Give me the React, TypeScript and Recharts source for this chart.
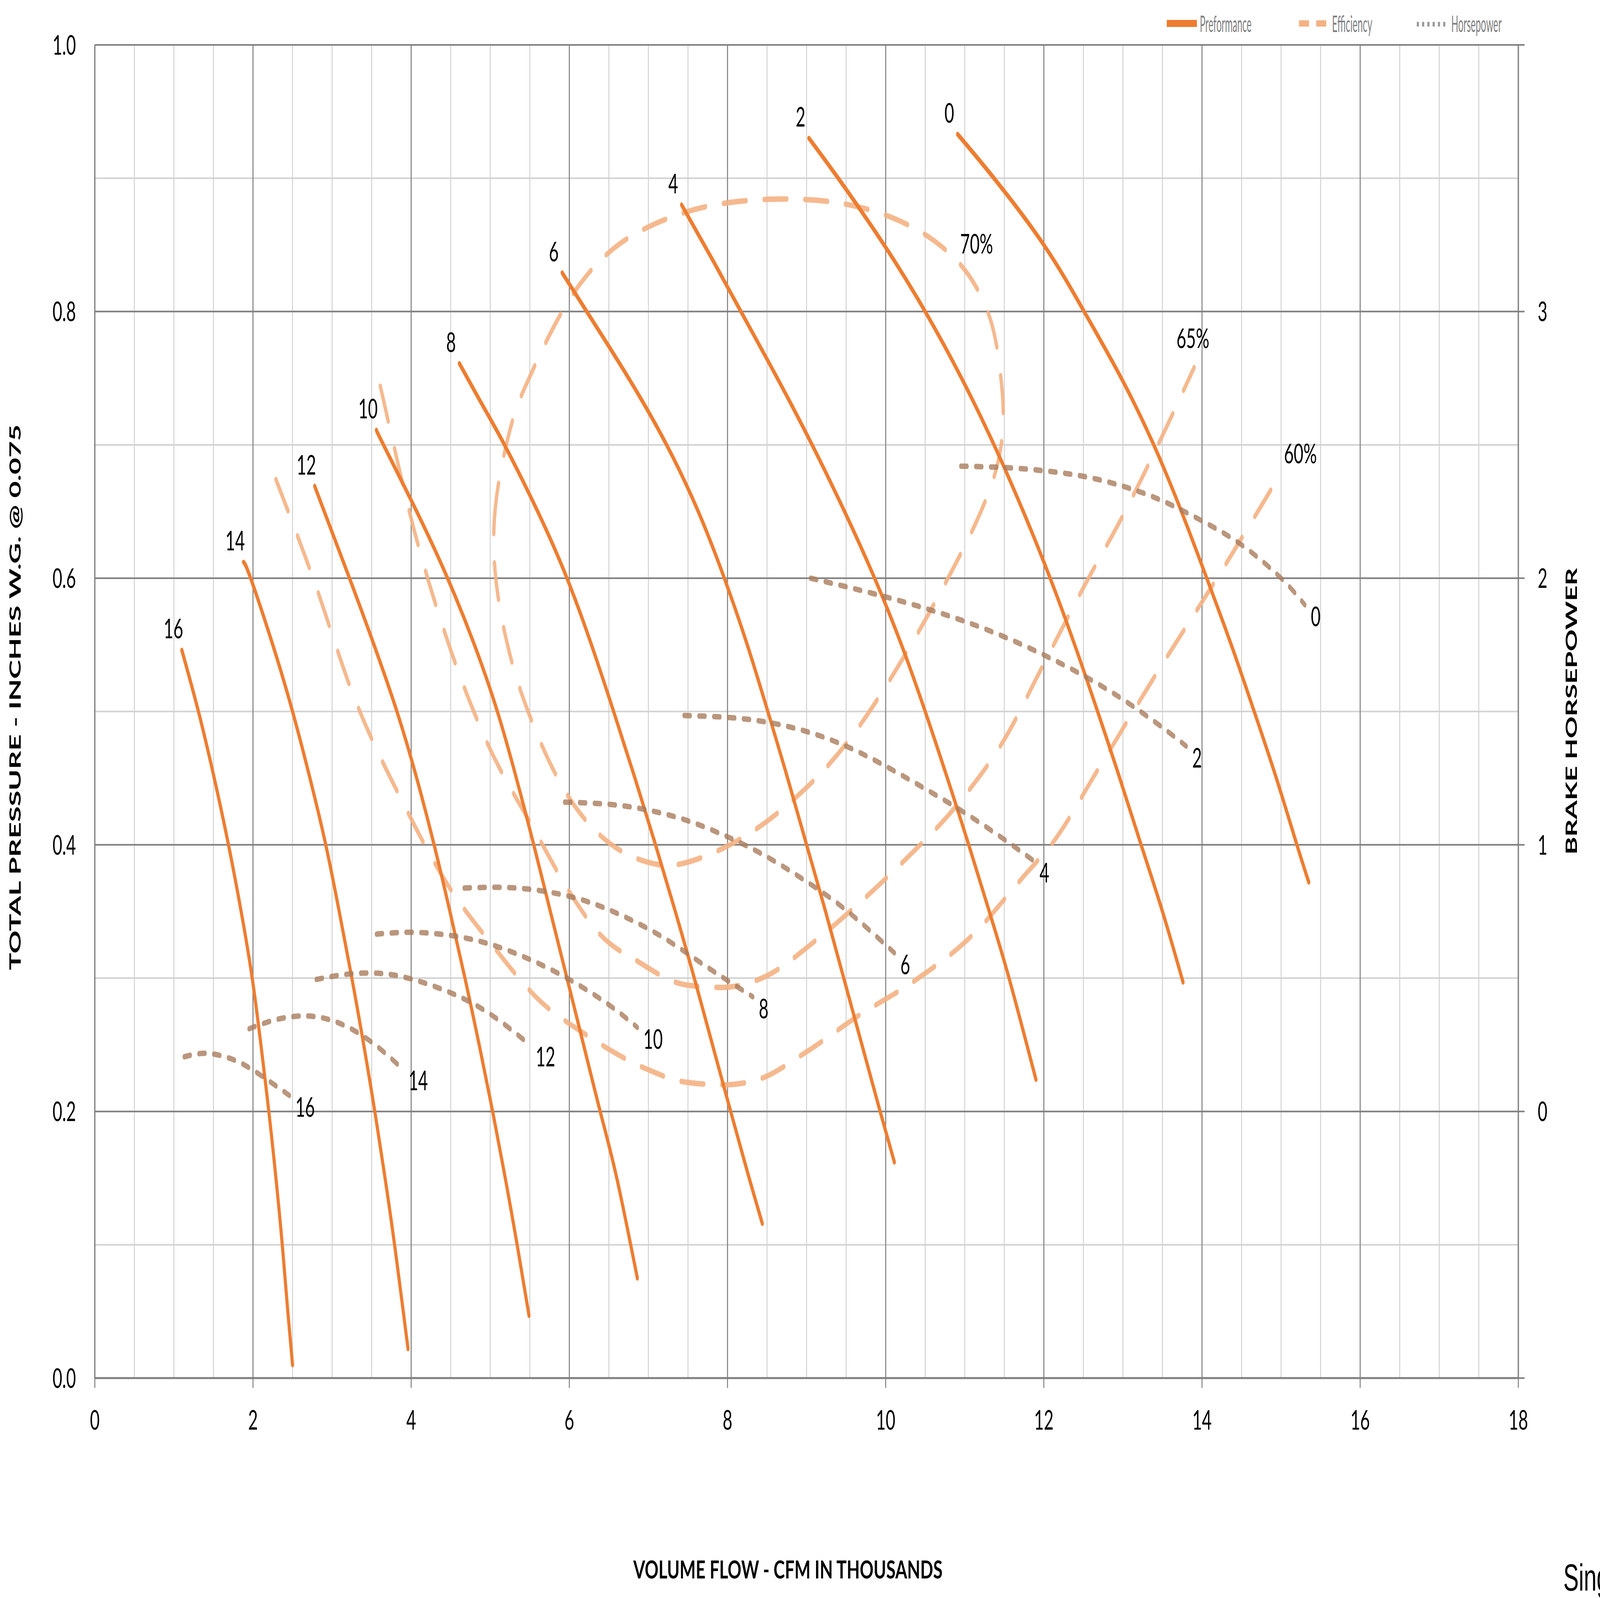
import React from 'react';
import { LineChart, Line, XAxis, YAxis, CartesianGrid } from 'recharts';

type Pt = [number, number];

// axis ticks
const xTicks = [0, 2, 4, 6, 8, 10, 12, 14, 16, 18];
const xMinorTicks = [0, 0.5, 1, 1.5, 2, 2.5, 3, 3.5, 4, 4.5, 5, 5.5, 6, 6.5, 7, 7.5, 8, 8.5, 9, 9.5, 10, 10.5, 11, 11.5, 12, 12.5, 13, 13.5, 14, 14.5, 15, 15.5, 16, 16.5, 17, 17.5, 18];
const pressureTicks = [0, 0.2, 0.4, 0.6, 0.8, 1.0];
const pressureMinorTicks = [0, 0.1, 0.2, 0.3, 0.4, 0.5, 0.6, 0.7, 0.8, 0.9, 1.0];
const bhpTicks = [-1, 0, 1, 2, 3, 4];

// performance curves (x = CFM thousands, y = in. w.g.)
const perf0: Pt[] = [[10.91, 0.933], [11.37, 0.9], [12.0, 0.85], [12.51, 0.8], [12.98, 0.75], [13.39, 0.7], [13.74, 0.65], [14.06, 0.6], [14.37, 0.55], [14.66, 0.5], [14.94, 0.45], [15.2, 0.4], [15.35, 0.372]];
const perf2: Pt[] = [[9.03, 0.93], [9.4, 0.9], [9.98, 0.85], [10.5, 0.8], [10.96, 0.75], [11.37, 0.7], [11.74, 0.65], [12.08, 0.6], [12.39, 0.55], [12.68, 0.5], [12.96, 0.45], [13.23, 0.4], [13.5, 0.35], [13.76, 0.297]];
const perf4: Pt[] = [[7.42, 0.88], [7.8, 0.84], [8.17, 0.8], [8.63, 0.75], [9.07, 0.7], [9.48, 0.65], [9.86, 0.6], [10.2, 0.55], [10.5, 0.5], [10.78, 0.45], [11.05, 0.4], [11.31, 0.35], [11.56, 0.3], [11.9, 0.224]];
const perf6: Pt[] = [[5.91, 0.829], [6.22, 0.8], [6.75, 0.75], [7.23, 0.7], [7.63, 0.65], [7.96, 0.6], [8.25, 0.55], [8.51, 0.5], [8.76, 0.45], [9.0, 0.4], [9.24, 0.35], [9.47, 0.3], [9.7, 0.25], [9.93, 0.2], [10.11, 0.162]];
const perf8: Pt[] = [[4.61, 0.761], [4.9, 0.73], [5.18, 0.7], [5.6, 0.65], [5.97, 0.6], [6.28, 0.55], [6.56, 0.5], [6.83, 0.45], [7.09, 0.4], [7.34, 0.35], [7.58, 0.3], [7.81, 0.25], [8.04, 0.2], [8.25, 0.155], [8.44, 0.116]];
const perf10: Pt[] = [[3.56, 0.711], [3.65, 0.7], [4.07, 0.65], [4.46, 0.6], [4.8, 0.55], [5.09, 0.5], [5.33, 0.45], [5.55, 0.4], [5.76, 0.35], [5.97, 0.3], [6.18, 0.25], [6.39, 0.2], [6.6, 0.15], [6.86, 0.075]];
const perf12: Pt[] = [[2.78, 0.669], [3.22, 0.6], [3.53, 0.55], [3.82, 0.5], [4.07, 0.45], [4.29, 0.4], [4.49, 0.35], [4.68, 0.3], [4.86, 0.25], [5.03, 0.2], [5.19, 0.15], [5.34, 0.1], [5.49, 0.047]];
const perf14: Pt[] = [[1.88, 0.612], [1.97, 0.6], [2.25, 0.55], [2.5, 0.5], [2.72, 0.45], [2.92, 0.4], [3.09, 0.35], [3.25, 0.3], [3.4, 0.25], [3.54, 0.2], [3.67, 0.15], [3.79, 0.1], [3.9, 0.05], [3.96, 0.022]];
const perf16: Pt[] = [[1.1, 0.546], [1.31, 0.5], [1.51, 0.45], [1.69, 0.4], [1.85, 0.35], [1.99, 0.3], [2.1, 0.25], [2.2, 0.2], [2.29, 0.15], [2.37, 0.1], [2.44, 0.05], [2.5, 0.01]];

// efficiency contours
const eff70: Pt[] = [[5.05, 0.598], [5.03, 0.645], [5.14, 0.685], [5.3, 0.725], [5.46, 0.746], [5.76, 0.785], [6.05, 0.815], [6.35, 0.837], [6.7, 0.855], [7.21, 0.87], [7.8, 0.881], [8.52, 0.885], [9.12, 0.884], [9.5, 0.881], [9.97, 0.874], [10.48, 0.86], [10.9, 0.84], [11.16, 0.819], [11.37, 0.79], [11.45, 0.756], [11.5, 0.725], [11.47, 0.699], [11.37, 0.673], [11.11, 0.636], [10.7, 0.59], [10.34, 0.551], [9.53, 0.473], [8.77, 0.429], [8.13, 0.401], [7.39, 0.383], [7.05, 0.385], [6.54, 0.396], [5.94, 0.434], [5.44, 0.503], [5.22, 0.546]];
const eff65: Pt[] = [[3.61, 0.744], [3.74, 0.71], [3.99, 0.647], [4.46, 0.553], [4.92, 0.482], [5.56, 0.411], [6.03, 0.362], [6.37, 0.334], [6.88, 0.312], [7.47, 0.295], [7.92, 0.293], [8.47, 0.301], [9.11, 0.328], [9.66, 0.356], [10.25, 0.389], [10.89, 0.429], [11.53, 0.482], [11.95, 0.53], [12.51, 0.594], [13.0, 0.647], [13.46, 0.702], [13.9, 0.758]];
const eff60: Pt[] = [[2.29, 0.674], [2.76, 0.6], [3.27, 0.512], [3.91, 0.43], [4.42, 0.374], [5.05, 0.323], [5.61, 0.284], [6.2, 0.258], [6.97, 0.232], [7.47, 0.222], [7.95, 0.22], [8.39, 0.224], [8.98, 0.244], [9.66, 0.272], [10.34, 0.297], [11.11, 0.333], [11.74, 0.376], [12.13, 0.403], [12.68, 0.456], [13.43, 0.529], [14.19, 0.6], [14.97, 0.676]];

// brake horsepower curves (y on right axis)
const hp0: Pt[] = [[10.95, 2.42], [11.5, 2.415], [12.0, 2.403], [12.5, 2.382], [13.0, 2.345], [13.5, 2.29], [14.0, 2.215], [14.5, 2.125], [15.0, 2.0], [15.3, 1.9]];
const hp2: Pt[] = [[9.05, 2.0], [9.5, 1.968], [10.0, 1.93], [10.5, 1.887], [11.0, 1.838], [11.5, 1.78], [12.0, 1.712], [12.5, 1.635], [13.0, 1.545], [13.5, 1.44], [13.8, 1.37]];
const hp4: Pt[] = [[7.45, 1.485], [8.0, 1.478], [8.5, 1.46], [9.0, 1.425], [9.5, 1.37], [10.0, 1.295], [10.5, 1.21], [11.0, 1.12], [11.5, 1.02], [11.87, 0.94]];
const hp6: Pt[] = [[5.94, 1.16], [6.5, 1.152], [7.0, 1.13], [7.5, 1.09], [8.0, 1.03], [8.5, 0.955], [9.0, 0.862], [9.5, 0.755], [10.11, 0.595]];
const hp8: Pt[] = [[4.67, 0.838], [5.2, 0.84], [5.7, 0.825], [6.2, 0.79], [6.7, 0.73], [7.2, 0.65], [7.7, 0.55], [8.32, 0.43]];
const hp10: Pt[] = [[3.56, 0.665], [4.0, 0.672], [4.5, 0.66], [5.0, 0.627], [5.5, 0.57], [6.0, 0.495], [6.5, 0.4], [6.86, 0.315]];
const hp12: Pt[] = [[2.8, 0.495], [3.2, 0.515], [3.6, 0.518], [4.0, 0.497], [4.5, 0.445], [5.0, 0.365], [5.5, 0.25]];
const hp14: Pt[] = [[1.95, 0.31], [2.3, 0.345], [2.7, 0.358], [3.1, 0.33], [3.5, 0.26], [3.89, 0.16]];
const hp16: Pt[] = [[1.13, 0.205], [1.4, 0.218], [1.7, 0.2], [2.0, 0.155], [2.46, 0.06]];

const perfNames = ['0', '2', '4', '6', '8', '10', '12', '14', '16'];
const perfCurves = [perf0, perf2, perf4, perf6, perf8, perf10, perf12, perf14, perf16];
const hpCurves = [hp0, hp2, hp4, hp6, hp8, hp10, hp12, hp14, hp16];
const effNames = ['70%', '65%', '60%'];
const effCurves = [eff70, eff65, eff60];

const X_DOMAIN: [number, number] = [0, 18];
const P_DOMAIN: [number, number] = [0, 1];

const W = 6681;
const H = 4091;
const FONT = 'Lato, "Open Sans", sans-serif';
const PERF = '#ED7D31';
const EFF = '#F4B183';
const HPC = '#A97C5C';
const GRID_MAJOR = '#7f7f7f';
const GRID_MINOR = '#d2d2d2';

// where each efficiency label sits relative to one of its points
const effLabelPos = [
  { idx: 16, dx: 14, dy: -12, anchor: 'start' },
  { idx: eff65.length - 1, dx: -5, dy: -50, anchor: 'middle' },
  { idx: eff60.length - 1, dx: 22, dy: -35, anchor: 'start' },
];

const rows = (pts: Pt[]) => pts.map(([x, y]) => ({ x, y }));

const pointOf = (p: any) => ({
  x: p.x ?? p.viewBox?.x ?? 0,
  y: p.y ?? p.viewBox?.y ?? 0,
});

const labelAt = (idx: number, text: string, dx: number, dy: number, anchor: string) => (p: any) => {
  if (p.index !== idx) return null;
  const { x, y } = pointOf(p);
  return (
    <text x={x + dx} y={y + dy} textAnchor={anchor} fontFamily={FONT} fontSize={70} fill="#000">
      {text}
    </text>
  );
};

// use the axis scale when the grid hands it over, otherwise map through the plot box
const scaleOf = (axis: any) => {
  const s = axis?.scale;
  if (typeof s === 'function') return (v: number) => s(v);
  if (s && typeof s.map === 'function') return (v: number) => s.map(v);
  return null;
};

const minorVertical = ({ xAxis, offset }: any) => {
  const f = scaleOf(xAxis);
  if (f) return xMinorTicks.map(f);
  return xMinorTicks.map((t) => offset.left + ((t - X_DOMAIN[0]) / (X_DOMAIN[1] - X_DOMAIN[0])) * offset.width);
};
const minorHorizontal = ({ yAxis, offset }: any) => {
  const f = scaleOf(yAxis);
  if (f) return pressureMinorTicks.map(f);
  return pressureMinorTicks.map((t) => offset.top + (1 - (t - P_DOMAIN[0]) / (P_DOMAIN[1] - P_DOMAIN[0])) * offset.height);
};

export default function App() {
  // the browser may give a narrower window than asked for: fit the whole chart into it
  const vw = typeof window !== 'undefined' ? window.innerWidth : W;
  const vh = typeof window !== 'undefined' ? window.innerHeight : H;
  const sx = vw / W;
  const sy = vh / H;

  return (
    <div style={{ position: 'fixed', left: 0, top: 0, width: vw, height: vh, overflow: 'hidden', background: '#fff' }}>
      <div style={{ position: 'absolute', left: 0, top: 0, width: W, height: H, transform: `scale(${sx}, ${sy})`, transformOrigin: '0 0' }}>
        <LineChart width={W} height={H} margin={{ top: 115, right: 141, bottom: 413, left: 196 }}>
          <CartesianGrid
            xAxisId="x"
            yAxisId="p"
            stroke={GRID_MINOR}
            strokeWidth={4}
            verticalCoordinatesGenerator={minorVertical}
            horizontalCoordinatesGenerator={minorHorizontal}
          />
          <CartesianGrid xAxisId="x" yAxisId="p" stroke={GRID_MAJOR} strokeWidth={4} />

          <XAxis
            xAxisId="x"
            type="number"
            dataKey="x"
            domain={X_DOMAIN}
            ticks={xTicks}
            height={150}
            axisLine={{ stroke: GRID_MAJOR, strokeWidth: 5 }}
            tickLine={{ stroke: GRID_MAJOR, strokeWidth: 4 }}
            tickSize={25}
            tickMargin={57}
            tick={{ fill: '#000', fontSize: 70, fontFamily: FONT }}
          />
          <YAxis
            yAxisId="p"
            type="number"
            domain={P_DOMAIN}
            ticks={pressureTicks}
            width={200}
            axisLine={{ stroke: GRID_MAJOR, strokeWidth: 5 }}
            tickLine={false}
            tickSize={0}
            tickMargin={79}
            tickFormatter={(v: number) => v.toFixed(1)}
            tick={{ fill: '#000', fontSize: 70, fontFamily: FONT }}
          />
          <YAxis
            yAxisId="hp"
            orientation="right"
            type="number"
            domain={[-1, 4]}
            ticks={bhpTicks}
            width={200}
            axisLine={{ stroke: GRID_MAJOR, strokeWidth: 5 }}
            tickLine={{ stroke: GRID_MAJOR, strokeWidth: 4 }}
            tickSize={26}
            tickMargin={55}
            tickFormatter={(v: number) => (v < 0 || v > 3 ? '' : String(v))}
            tick={{ fill: '#000', fontSize: 70, fontFamily: FONT }}
          />

          {effCurves.map((pts, i) => (
            <Line
              key={'eff' + i}
              xAxisId="x"
              yAxisId="p"
              data={rows(pts)}
              dataKey="y"
              type={i === 0 ? 'basisClosed' : 'monotone'}
              stroke={EFF}
              strokeOpacity={0.9}
              strokeWidth={14}
              strokeDasharray="95 75"
              strokeLinecap="round"
              dot={false}
              activeDot={false}
              isAnimationActive={false}
              label={labelAt(effLabelPos[i].idx, effNames[i], effLabelPos[i].dx, effLabelPos[i].dy, effLabelPos[i].anchor)}
            />
          ))}

          {perfCurves.map((pts, i) => (
            <Line
              key={'perf' + i}
              xAxisId="x"
              yAxisId="p"
              data={rows(pts)}
              dataKey="y"
              type="natural"
              stroke={PERF}
              strokeWidth={13}
              strokeLinecap="round"
              dot={false}
              activeDot={false}
              isAnimationActive={false}
              label={labelAt(0, perfNames[i], -35, -30, 'middle')}
            />
          ))}

          {hpCurves.map((pts, i) => (
            <Line
              key={'hp' + i}
              xAxisId="x"
              yAxisId="hp"
              data={rows(pts)}
              dataKey="y"
              type="natural"
              stroke={HPC}
              strokeOpacity={0.8}
              strokeWidth={14}
              strokeDasharray="26 36"
              strokeLinecap="round"
              dot={false}
              activeDot={false}
              isAnimationActive={false}
              label={labelAt(pts.length - 1, perfNames[i], 25, 55, 'start')}
            />
          ))}
        </LineChart>

        <svg width={W} height={H} style={{ position: 'absolute', left: 0, top: 0, pointerEvents: 'none' }}>
          {/* legend */}
          <line x1={4872} y1={60} x2={4998} y2={60} stroke={PERF} strokeWidth={18} />
          <text x={5010} y={82} fontFamily={FONT} fontSize={58} fill="#808080" textLength={216} lengthAdjust="spacingAndGlyphs">Preformance</text>
          <line x1={5424} y1={60} x2={5538} y2={60} stroke={EFF} strokeWidth={16} strokeDasharray="42 30" />
          <text x={5562} y={82} fontFamily={FONT} fontSize={58} fill="#808080" textLength={168} lengthAdjust="spacingAndGlyphs">Efficiency</text>
          <line x1={5916} y1={62} x2={6042} y2={62} stroke="#9a9a9a" strokeWidth={12} strokeDasharray="9 13" />
          <text x={6060} y={82} fontFamily={FONT} fontSize={58} fill="#808080" textLength={210} lengthAdjust="spacingAndGlyphs">Horsepower</text>

          {/* axis titles */}
          <text x={3290} y={4041} textAnchor="middle" fontFamily={FONT} fontWeight="bold" fontSize={64} textLength={1291} lengthAdjust="spacingAndGlyphs">
            VOLUME FLOW - CFM IN THOUSANDS
          </text>
          <text transform="translate(86,1785) rotate(-90)" textAnchor="middle" fontFamily={FONT} fontWeight="bold" fontSize={64} textLength={1397} lengthAdjust="spacingAndGlyphs">
            TOTAL PRESSURE - INCHES W.G. @ 0.075
          </text>
          <text transform="translate(6584,1821) rotate(-90)" textAnchor="middle" fontFamily={FONT} fontWeight="bold" fontSize={66} textLength={734} lengthAdjust="spacingAndGlyphs">
            BRAKE HORSEPOWER
          </text>

          <text x={6528} y={4072} fontFamily='"Liberation Sans", Arial, sans-serif' fontSize={96} fill="#000">Single</text>
        </svg>
      </div>
    </div>
  );
}
